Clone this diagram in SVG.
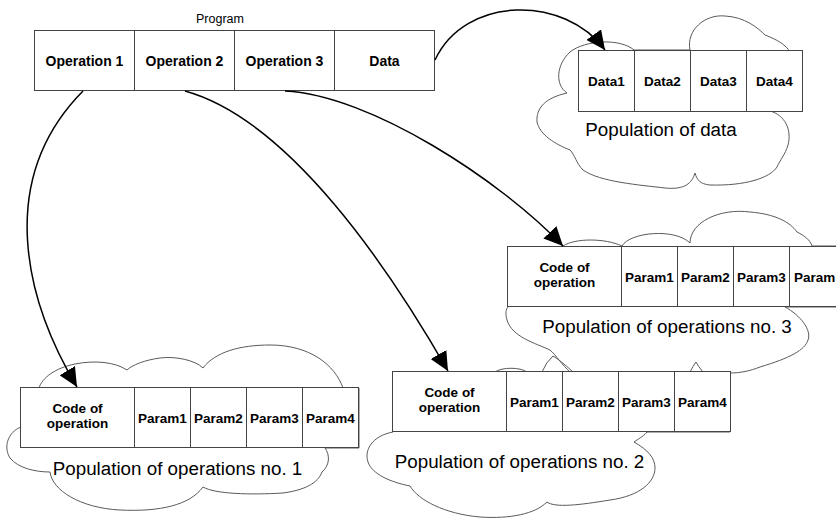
<svg xmlns="http://www.w3.org/2000/svg" width="836" height="522" viewBox="0 0 836 522">
<defs>
<marker id="arr" markerUnits="userSpaceOnUse" markerWidth="19" markerHeight="18" viewBox="0 0 18 17" refX="18" refY="8.5" orient="auto">
<path d="M0,0 L18,8.5 L0,17 Z" fill="#000"/>
</marker>
<style>
.cloud{fill:none;stroke:#5a5a5a;stroke-width:1}
.box{fill:#fff;stroke:#444;stroke-width:1}
.div{stroke:#444;stroke-width:1}
.b{font-family:"Liberation Sans",Arial,sans-serif;font-weight:bold;font-size:14px;fill:#000;text-anchor:middle}
.p{font-family:"Liberation Sans",Arial,sans-serif;font-weight:bold;font-size:13.5px;fill:#000;text-anchor:middle}
.pop{font-family:"Liberation Sans",Arial,sans-serif;font-size:18.8px;fill:#000;text-anchor:middle}
.conn{fill:none;stroke:#000;stroke-width:1.5;marker-end:url(#arr)}
</style>
</defs>
<rect width="836" height="522" fill="#fff"/>

<g id="clouds">
<path class="cloud" d="M567,93 C555,85 556,65 570,52 C585,40 620,38 634,50 L690,50 C686,30 705,14 725,16 C745,17 758,28 765,35 C778,40 786,45 790,52 L770,111 C785,115 792,130 788,145 C785,155 780,160 777,167 C770,178 745,186 710,185 C700,184 697,180 695,173 C692,183 685,190 665,188 C640,185 600,182 583,170 C576,163 575,155 570,150 C555,144 540,135 537,122 C536,108 545,98 567,93 Z"/>
<path class="cloud" d="M563,246 C575,238 605,238 622,246 C630,232 675,228 690,243 C690,222 720,208 750,212 C775,214 790,222 797,232 C805,236 810,240 812,246 L845,246 L845,307 L785,307 C800,315 812,330 808,340 C805,350 790,358 760,367 C750,371 740,373 730,373 L570,372 C562,365 556,355 550,350 C535,343 512,337 507,320 C505,313 506,309 508,307 Z"/>
<path class="cloud" d="M393,432 C372,436 364,450 368,462 C372,474 390,482 410,486 C418,500 445,514 480,517 C510,519 535,514 547,502 C555,508 580,505 610,500 C640,496 655,482 655,468 C655,458 648,450 634,442 C640,438 645,435 647,432 L730,432 L730,372 L703,372 Q698,366 696,362 Q693,366 690,372 L573,372 Q560,360 553,356 Q546,362 542,372 L527,372 C520,367 502,367 495,372 L393,372 Z"/>
<path class="cloud" d="M21,427 C8,432 3,447 10,458 C18,468 35,472 50,472 C52,490 80,508 120,510 C160,512 190,505 203,487 C215,494 250,495 283,493 C305,490 318,483 322,472 C330,465 330,455 325,448 L359,448 L359,388 L343,388 C335,365 310,345 270,345 C240,345 215,352 203,368 C195,360 175,356 160,358 C145,360 132,365 127,370 C115,362 95,360 75,364 C55,368 42,378 39,388 L21,388 Z"/>
</g>

<g id="program">
<text x="220" y="23" font-family="Liberation Sans, Arial, sans-serif" font-size="12.5" text-anchor="middle" fill="#000">Program</text>
<rect class="box" x="34.5" y="30.5" width="400" height="60"/>
<line class="div" x1="134.5" y1="30.5" x2="134.5" y2="90.5"/>
<line class="div" x1="234.5" y1="30.5" x2="234.5" y2="90.5"/>
<line class="div" x1="334.5" y1="30.5" x2="334.5" y2="90.5"/>
<text class="b" x="84.5" y="65.5">Operation 1</text>
<text class="b" x="184.5" y="65.5">Operation 2</text>
<text class="b" x="284.5" y="65.5">Operation 3</text>
<text class="b" x="384.5" y="65.5">Data</text>
</g>

<g id="data-population">
<rect class="box" x="578.5" y="50.5" width="224" height="61"/>
<line class="div" x1="634.5" y1="50.5" x2="634.5" y2="111.5"/>
<line class="div" x1="690.5" y1="50.5" x2="690.5" y2="111.5"/>
<line class="div" x1="746.5" y1="50.5" x2="746.5" y2="111.5"/>
<text class="p" x="606.5" y="86">Data1</text>
<text class="p" x="662.5" y="86">Data2</text>
<text class="p" x="718.5" y="86">Data3</text>
<text class="p" x="774.5" y="86">Data4</text>
<text class="pop" x="661" y="136">Population of data</text>
</g>

<g id="ops-population-3">
<rect class="box" x="507.5" y="246.5" width="338" height="60"/>
<line class="div" x1="621.5" y1="246.5" x2="621.5" y2="306.5"/>
<line class="div" x1="677.5" y1="246.5" x2="677.5" y2="306.5"/>
<line class="div" x1="733.5" y1="246.5" x2="733.5" y2="306.5"/>
<line class="div" x1="789.5" y1="246.5" x2="789.5" y2="306.5"/>
<text class="p" x="564.5" y="272">Code of</text>
<text class="p" x="564.5" y="287">operation</text>
<text class="p" x="649.5" y="282">Param1</text>
<text class="p" x="705.5" y="282">Param2</text>
<text class="p" x="761.5" y="282">Param3</text>
<text class="p" x="794" y="282" style="text-anchor:start">Param</text>
<text class="pop" x="667" y="333">Population of operations no. 3</text>
</g>

<g id="ops-population-2">
<rect class="box" x="392.5" y="371.5" width="338" height="60"/>
<line class="div" x1="506.5" y1="371.5" x2="506.5" y2="431.5"/>
<line class="div" x1="562.5" y1="371.5" x2="562.5" y2="431.5"/>
<line class="div" x1="618.5" y1="371.5" x2="618.5" y2="431.5"/>
<line class="div" x1="674.5" y1="371.5" x2="674.5" y2="431.5"/>
<text class="p" x="449.5" y="397">Code of</text>
<text class="p" x="449.5" y="412">operation</text>
<text class="p" x="534.5" y="407">Param1</text>
<text class="p" x="590.5" y="407">Param2</text>
<text class="p" x="646.5" y="407">Param3</text>
<text class="p" x="702.5" y="407">Param4</text>
<text class="pop" x="519.5" y="468">Population of operations no. 2</text>
</g>

<g id="ops-population-1">
<rect class="box" x="20.5" y="387.5" width="338" height="60"/>
<line class="div" x1="134.5" y1="387.5" x2="134.5" y2="447.5"/>
<line class="div" x1="190.5" y1="387.5" x2="190.5" y2="447.5"/>
<line class="div" x1="246.5" y1="387.5" x2="246.5" y2="447.5"/>
<line class="div" x1="302.5" y1="387.5" x2="302.5" y2="447.5"/>
<text class="p" x="77.5" y="413">Code of</text>
<text class="p" x="77.5" y="428">operation</text>
<text class="p" x="162.5" y="423">Param1</text>
<text class="p" x="218.5" y="423">Param2</text>
<text class="p" x="274.5" y="423">Param3</text>
<text class="p" x="330.5" y="423">Param4</text>
<text class="pop" x="177.5" y="475">Population of operations no. 1</text>
</g>

<g id="connectors">
<path class="conn" d="M83,91 C-5,180 25,300 77,387"/>
<path class="conn" d="M185,91 C290,120 390,270 448,371"/>
<path class="conn" d="M285,91 C370,95 500,180 563,246"/>
<path class="conn" d="M435,60 C465,-5 565,-5 605,50"/>
</g>
</svg>
